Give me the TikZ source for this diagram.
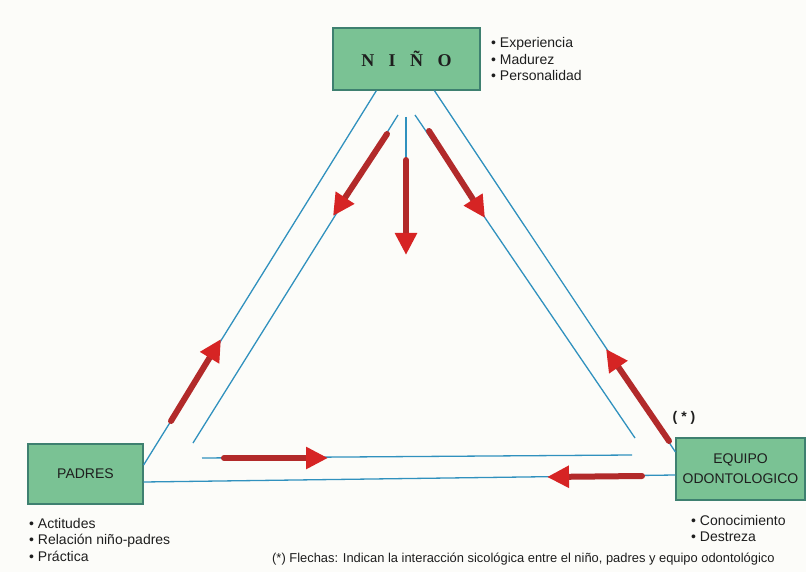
\documentclass[tikz,border=0pt]{standalone}
\usepackage{fontspec}
\setmainfont{Liberation Sans}
\newfontfamily\serifbold{Liberation Serif}
\usetikzlibrary{arrows.meta}
\definecolor{boxfill}{RGB}{122,194,148}
\definecolor{boxedge}{RGB}{62,128,112}
\definecolor{lineblue}{RGB}{48,145,190}
\definecolor{shaftred}{RGB}{178,42,42}
\definecolor{headred}{RGB}{214,36,36}
\definecolor{txt}{RGB}{30,30,30}
\definecolor{paper}{RGB}{252,252,249}
\begin{document}
\begin{tikzpicture}[x=1pt,y=-1pt,
  box/.style={draw=boxedge, line width=1.2pt, fill=boxfill, inner sep=0pt, text=txt},
  blueline/.style={draw=lineblue, line width=1.3pt},
  redarrow/.style={draw=shaftred, line width=6pt, line cap=round,
    -{Triangle[length=22pt,width=21pt,color=headred]}},
  bul/.style={inner sep=0pt, align=left, text=txt, font=\fontsize{14}{16.5}\selectfont},
  note/.style={inner sep=0pt, text=txt}
]
\fill[paper] (0,0) rectangle (806,572);
\useasboundingbox (0,0) rectangle (806,572);

% boxes
\node[box, minimum width=147pt, minimum height=62pt, font=\serifbold\bfseries\fontsize{18}{18}\selectfont] (nino) at (406.5,59)
  {N\hspace{14.5pt}I\hspace{14.5pt}Ñ\hspace{14.5pt}O};
\node[box, minimum width=115pt, minimum height=60pt, font=\fontsize{14}{16}\selectfont] (padres) at (85.5,474)
  {PADRES};
\node[box, minimum width=129pt, minimum height=62pt, align=center, font=\fontsize{14}{20}\selectfont] (equipo) at (740.5,469)
  {EQUIPO\\ODONTOLOGICO};

% bullet lists (base anchor = baseline of last line)
\node[bul, anchor=base west] (bn) at (491,81) {• Experiencia\\• Madurez\\• Personalidad};
\node[bul, anchor=base west] (bp) at (29,561) {• Actitudes\\• Relación niño-padres\\• Práctica};
\node[bul, anchor=base west] (be) at (691,541.5) {• Conocimiento\\• Destreza};
\node[note, anchor=base, font=\bfseries\fontsize{14}{16}\selectfont] (star) at (684,421) {( * )};
\node[note, anchor=base west, font=\fontsize{12.9}{15}\selectfont] (fn) at (272,562)
  {(*) Flechas: Indican la interacción sicológica entre el niño, padres y equipo odontológico};

% outer triangle
\coordinate (oL1) at ([xshift=44pt]nino.south west);
\coordinate (oR1) at ([xshift=102pt]nino.south west);
\coordinate (oL2) at ([yshift=9pt]padres.east);
\coordinate (oB1) at ([yshift=-8pt]padres.east);
\coordinate (oR2) at ([yshift=17pt]equipo.west);
\coordinate (oB2) at ([yshift=-6pt]equipo.west);
\draw[blueline] (oL1) -- (oL2);
\draw[blueline] (oR1) -- (oR2);
\draw[blueline] (oB1) -- (oB2);

% inner triangle
\coordinate (iL1) at (398,115);
\coordinate (iL2) at (193,443);
\coordinate (iR1) at (415,115);
\coordinate (iR2) at (635,438);
\coordinate (iB1) at (202,458);
\coordinate (iB2) at (632,455);
\coordinate (iC1) at (406,117);
\coordinate (iC2) at (406,160);
\draw[blueline] (iL1) -- (iL2);
\draw[blueline] (iR1) -- (iR2);
\draw[blueline] (iB1) -- (iB2);
\draw[blueline] (iC1) -- (iC2);

% red arrows
\coordinate (a1s) at (387,134); \coordinate (a1e) at (333,216);
\coordinate (a2s) at (406,160); \coordinate (a2e) at (406,255);
\coordinate (a3s) at (429,131); \coordinate (a3e) at (485,218);
\coordinate (a4s) at (171,421); \coordinate (a4e) at (221,339);
\coordinate (a5s) at (669,441); \coordinate (a5e) at (606,349);
\coordinate (a6s) at (224,458); \coordinate (a6e) at (328,458);
\coordinate (a7s) at (642,476); \coordinate (a7e) at (547,477);
\foreach \a in {1,...,7} {\draw[redarrow] (a\a s) -- (a\a e);}
\end{tikzpicture}
\end{document}
